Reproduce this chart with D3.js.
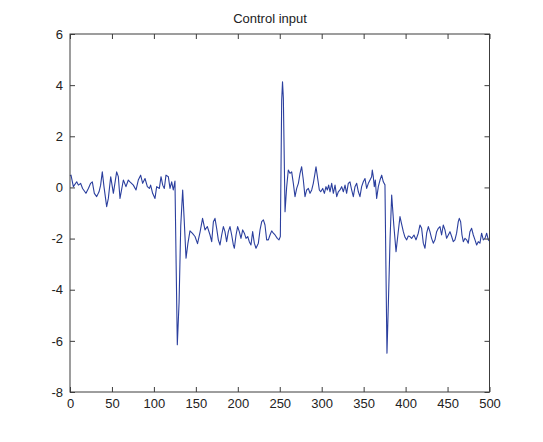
<!DOCTYPE html>
<html><head><meta charset="utf-8">
<script src="https://cdn.jsdelivr.net/npm/d3@7"></script>
<style>html,body{margin:0;padding:0;background:#fff}</style>
</head><body>
<svg id="chart" width="543" height="442"></svg>
<script>
const chartTitle = "Control input";
const xTickValues = [0,50,100,150,200,250,300,350,400,450,500];
const yTickValues = [-8,-6,-4,-2,0,2,4,6];
const sampleIdx = [
0,1.2,4,8,10,12.7,15,19,21.9,24.6,26.6,29,31.8,34.6,36.5,38.5,40.5,43.7,45.7,48.5,51.7,55.6,57.6,59.6,63.6,66.7,69.5,71.5,75.5,78.7,81.4,84.2,86.6,89.4,92.2,94.6,96.1,98.5,101.3,103.3,106.5,108.5,110.5,112.4,114.4,117.2,119.2,121.2,123.1,125.1,
126.5,127.9,130,132,134.3,136,138.3,140.5,
143,146,149,152,155,158,160.9,163.7,166.9,168.9,170.9,172.8,174.8,176.8,178.8,180.8,182.8,184.7,186.7,188.7,190.7,192.7,194.7,195.9,197.9,199.8,201.8,203.8,205.8,207.8,209.8,211.8,213.7,215.7,217.7,219.7,221.7,224.5,226.5,228.5,230.5,232.4,234.4,236.4,238.4,240.4,242.4,244.4,247.1,249.1,250.7,
252.3,253.3,254.3,256.3,258.2,
260.2,262.2,264.2,266.2,268.2,270.2,272.2,274.2,276.1,278.1,280.1,282.1,284.1,286.1,288.1,290,292,293.2,295.2,297.2,298.8,301.2,303.2,305.1,306.7,308.3,309.9,311.9,313.9,315.9,317.9,319.8,321.8,323.8,325.8,327.8,329.7,331.7,333.7,335.7,337.7,339.7,341.7,343.7,345.6,347.6,349.6,351.6,353.6,355.6,357.6,359.5,360.3,361.5,362.7,363.9,365.5,367.5,369.5,371.5,373.4,375.4,
376.5,377.8,379.5,381.5,383.4,386,388.6,391,393.3,395,397.3,399.3,401.3,403.2,
405.2,407.2,410,412.4,415.1,417.1,419.1,421.1,423.1,425.1,427.1,429,431,433,435,437,439,441,442.9,444.9,446.9,448.9,450.9,452.9,454.9,456.8,458.8,460.8,462.8,464,465.6,467.2,468.8,470.8,472.7,474.7,476.7,478.7,480.7,482.7,484.7,486.6,488.6,490.6,492.6,494.6,496.6,498.6,500
];
const controlU = [
0.45,0.48,0.03,0.22,0.09,0.16,-0.04,-0.23,-0.04,0.16,0.22,-0.23,-0.36,-0.17,0.09,0.61,0.03,-0.75,-0.43,0.42,-0.23,0.61,0.42,-0.43,0.29,0.03,0.29,0.22,0.09,-0.1,0.29,0.48,0.16,0.35,0.03,-0.04,0.09,-0.23,-0.43,0.03,-0.04,0.42,0.09,-0.04,0.48,0.42,-0.04,0.22,-0.1,0.25,
-3.0,-6.15,-4.5,-1.5,-0.1,-1.2,-2.77,-2.2,
-1.7,-1.8,-1.92,-2.2,-1.75,-1.21,-1.66,-1.53,-1.86,-2.12,-1.34,-1.21,-1.6,-2.05,-2.25,-1.86,-1.53,-1.73,-2.12,-1.73,-1.53,-1.86,-2.25,-2.38,-1.86,-1.53,-1.73,-1.99,-1.66,-1.79,-1.99,-1.92,-2.12,-2.25,-1.73,-2.18,-2.38,-2.18,-1.66,-1.34,-1.27,-1.47,-2.05,-2.05,-1.86,-1.7,-1.79,-1.86,-1.99,-2.05,-1.92,
3.4,4.13,3.5,-0.95,0.0,
0.68,0.55,0.61,0.16,-0.36,-0.04,0.16,0.55,0.81,0.29,-0.36,-0.1,-0.04,-0.23,-0.1,0.16,0.55,0.81,0.35,-0.1,-0.17,-0.04,-0.23,0.03,-0.1,0.09,-0.17,0.16,-0.23,0.09,-0.36,-0.17,-0.1,0.03,-0.17,0.09,-0.23,0.16,0.22,-0.1,-0.36,0.03,0.16,-0.17,-0.36,0.03,0.22,0.35,-0.04,0.16,0.29,0.42,0.68,0.42,0.03,0.29,-0.43,0.03,0.29,0.48,0.22,0.1,
-3.0,-6.48,-4.5,-2.0,-0.3,-1.5,-2.51,-1.8,-1.14,-1.4,-1.73,-1.95,-2.05,-1.9,
-1.92,-1.99,-1.86,-2.05,-1.79,-1.47,-1.6,-2.18,-2.38,-1.79,-1.53,-1.73,-1.99,-2.18,-2.05,-1.73,-1.6,-1.53,-1.86,-1.47,-1.66,-1.99,-1.86,-1.73,-1.92,-2.12,-2.05,-1.79,-1.34,-1.21,-1.34,-1.86,-2.12,-1.99,-2.05,-2.18,-1.73,-1.6,-1.86,-2.05,-2.25,-2.12,-2.18,-1.79,-2.05,-1.99,-1.79,-2.05,-2.1
];

const L = 70, R = 489.5, T = 34, B = 392;
const svg = d3.select("#chart");
const x = d3.scaleLinear().domain([0, 500]).range([L, R]);
const y = d3.scaleLinear().domain([-8, 6]).range([B, T]);
const axisColor = "#3c3c3c";
const font = "'Liberation Sans', Arial, sans-serif";
const tickLen = 5;
const fmt = d => String(d);

svg.append("rect").attr("width", 543).attr("height", 442).attr("fill", "#fff");

const data = sampleIdx.map((s, i) => [s, controlU[i]]);
const line = d3.line().x(d => x(d[0])).y(d => y(d[1]));
svg.append("path").datum(data).attr("d", line)
  .attr("fill", "none").attr("stroke", "#2b3f9e").attr("stroke-width", 1.1)
  .attr("stroke-linejoin", "round");

const gB = svg.append("g").attr("transform", `translate(0,${B})`)
  .call(d3.axisBottom(x).tickValues(xTickValues).tickSize(-tickLen).tickPadding(tickLen + 2).tickFormat(fmt));
const gT = svg.append("g").attr("transform", `translate(0,${T})`)
  .call(d3.axisTop(x).tickValues(xTickValues).tickSize(-tickLen).tickFormat(""));
const gL = svg.append("g").attr("transform", `translate(${L},0)`)
  .call(d3.axisLeft(y).tickValues(yTickValues).tickSize(-tickLen).tickPadding(tickLen + 2).tickFormat(fmt));
const gR = svg.append("g").attr("transform", `translate(${R},0)`)
  .call(d3.axisRight(y).tickValues(yTickValues).tickSize(-tickLen).tickFormat(""));

[gB, gT, gL, gR].forEach(g => {
  g.select(".domain").remove();
  g.selectAll("line").attr("stroke", axisColor).attr("stroke-width", 1);
  g.selectAll("text").attr("fill", "#222").style("font-family", font).style("font-size", "13px");
});

svg.append("rect").attr("x", L).attr("y", T).attr("width", R - L).attr("height", B - T)
  .attr("fill", "none").attr("stroke", axisColor).attr("stroke-width", 1);

svg.append("text").attr("x", 270).attr("y", 23).attr("text-anchor", "middle")
  .style("font-family", font).style("font-size", "13px").attr("fill", "#222").text(chartTitle);
</script>
</body></html>
